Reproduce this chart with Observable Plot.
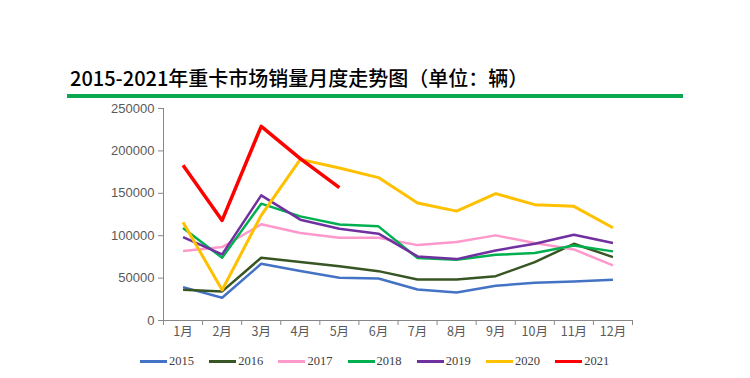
<!DOCTYPE html>
<html><head><meta charset="utf-8">
<script src="https://cdn.jsdelivr.net/npm/d3@7"></script>
<script src="https://cdn.jsdelivr.net/npm/@observablehq/plot@0.6"></script>
<style>
body{margin:0;background:#fff;}
#wrap{position:relative;width:750px;height:378px;overflow:hidden;}
#title{position:absolute;left:70px;top:63px;font-family:"Noto Sans CJK SC";font-size:20px;font-weight:500;color:#000;white-space:nowrap;letter-spacing:0px;}
#bar{position:absolute;left:67px;top:94px;width:616px;height:4px;background:#0aa84f;}
#legend{position:absolute;left:0;top:354px;width:750px;height:16px;font-family:"Liberation Serif";font-size:12.5px;color:#404040;}
.li{position:absolute;display:flex;align-items:center;}
.sw{width:27px;height:3px;margin-right:2px;}
svg{position:absolute;left:0;top:0;}
</style></head>
<body><div id="wrap"><div id="title">2015-2021年重卡市场销量月度走势图（单位：辆）</div><div id="bar"></div><div id="legend"></div></div>
<script>
const months = ["1月","2月","3月","4月","5月","6月","7月","8月","9月","10月","11月","12月"];
const years = ["2015","2016","2017","2018","2019","2020","2021"];
const colors = ["#4472c4","#375623","#ff99cc","#00b050","#7030a0","#ffc000","#ff0000"];
const widths = [2.5,2.5,2.5,2.5,2.5,3,3.5];
const yTicks = [0,50000,100000,150000,200000,250000];
const v2015 = [39400,26800,66900,58300,50400,49600,36600,33100,41000,44500,46000,48000];
const v2016 = [36200,34300,74000,68900,64100,58200,48400,48400,52300,68800,90500,74800];
const v2017 = [81900,86600,113400,103100,97600,97600,88900,92500,100400,91300,83800,64900];
const v2018 = [109000,74000,137800,122800,113300,111000,73600,71600,77500,79500,88500,81500];
const v2019 = [98400,78000,147600,118900,108300,102400,75600,72400,82600,90500,101200,91300];
const v2020 = [116000,36000,124000,190000,179800,168500,138500,129000,149600,136600,134600,109400];
const v2021 = [183000,118000,229000,191000,156700];
const series = [v2015,v2016,v2017,v2018,v2019,v2020,v2021];

const data = [];
series.forEach((arr,si)=>arr.forEach((v,i)=>data.push({year:years[si], m:i+1, v})));
const idx = months.map((_,i)=>i+1);
const bounds = [...idx.map(i=>i-0.5), months.length+0.5];

const lineMarks = years.map((y,si)=>Plot.line(data.filter(d=>d.year===y),{x:"m",y:"v",stroke:colors[si],strokeWidth:widths[si],strokeLinejoin:"round",strokeLinecap:"butt"}));

const chart = Plot.plot({
  width:750,height:378,
  marginTop:108,marginBottom:58,marginLeft:163,marginRight:118,
  style:{fontFamily:"Liberation Sans",background:"transparent",overflow:"visible"},
  x:{type:"linear",domain:[0.5,months.length+0.5]},
  y:{domain:[0,250000]},
  marks:[
    Plot.axisY({ticks:yTicks,tickSize:5,tickPadding:4,tickFormat:d=>String(d),fontSize:13,color:"#595959",stroke:"#888",label:null}),
    Plot.axisX({ticks:idx,tickSize:0,tickPadding:7,tickFormat:d=>months[d-1],fontSize:12.5,fontFamily:"Noto Sans CJK SC",color:"#595959",label:null}),
    Plot.axisX({ticks:bounds,tickSize:5,tickFormat:()=>"",stroke:"#888",label:null}),
    Plot.ruleX([0.5],{stroke:"#888"}),
    Plot.ruleY([0],{stroke:"#888"}),
    ...lineMarks
  ]
});
document.getElementById("wrap").appendChild(chart);

const leg = document.getElementById("legend");
years.forEach((y,i)=>{
  const d=document.createElement("div");d.className="li";d.style.left=(140+i*69.2)+"px";
  d.innerHTML=`<span class="sw" style="background:${colors[i]}"></span><span>${y}</span>`;
  leg.appendChild(d);
});
</script></body></html>
